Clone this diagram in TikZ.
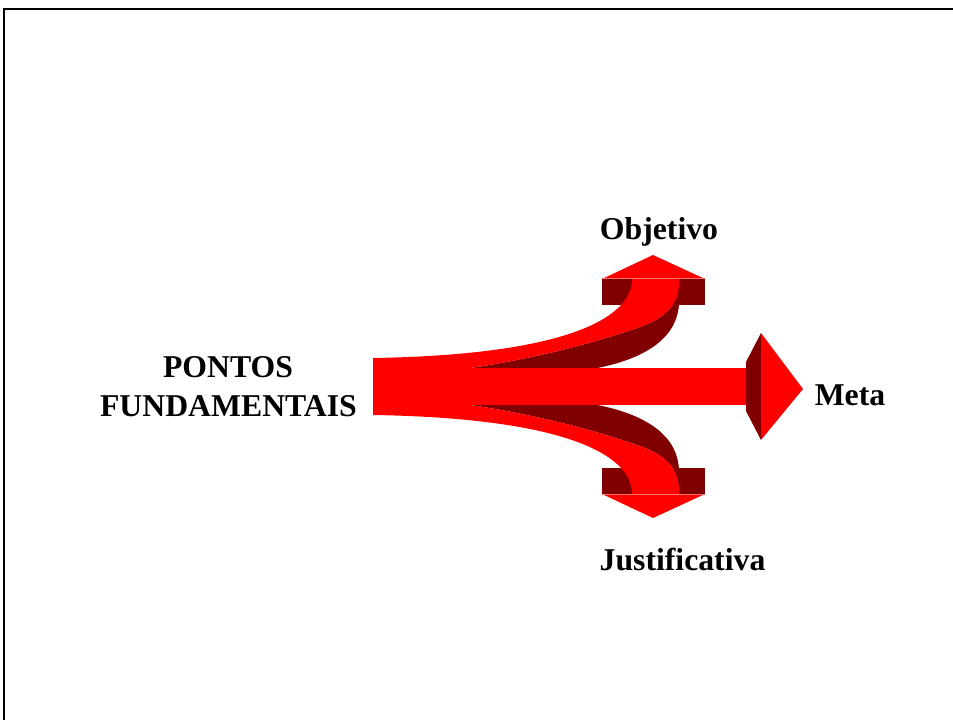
\documentclass[tikz,border=0pt]{standalone}
\usepackage{fontspec}
\setmainfont{Liberation Serif}
\definecolor{arrred}{RGB}{255,0,0}
\definecolor{arrdark}{RGB}{128,0,0}
\definecolor{arrlight}{RGB}{255,110,110}
\begin{document}
\begin{tikzpicture}[x=0.75pt,y=-0.75pt,
 lbl/.style={font=\fontsize{23.8}{28}\selectfont\bfseries, inner sep=0pt, anchor=base},
 face/.style={fill=arrred, draw=none},
 side/.style={fill=arrdark, draw=none},
 edgeline/.style={draw=arrlight, line width=0.75pt}]
\useasboundingbox (0,0) rectangle (953,720);
\fill[white] (0,0) rectangle (953,720);
\draw[line width=1.5pt] (4,720) -- (4,9.5) -- (953,9.5);

\foreach \s in {1,-1} {
\begin{scope}[shift={(0,386.5)}, yscale=\s, shift={(0,-386.5)}]
  \fill[side] (602,279) rectangle (705,305);
  \fill[side] (679,279) -- (679,303) .. controls (678,335) and (650,358) .. (595,368.5)
     -- (467,368.5) .. controls (540,358) and (600,341) .. (640,327)
     .. controls (665,318) and (678,305) .. (679,285) -- cycle;
  \fill[face] (373,358) .. controls (560,355) and (632,320) .. (632,279)
     -- (679,279) -- (679,285) .. controls (678,305) and (665,318) .. (640,327)
     .. controls (600,341) and (540,358) .. (467,368.5) -- (373,368.5) -- cycle;
  \fill[face] (602,279) -- (653,255) -- (705,279) -- cycle;
  \draw[edgeline] (602,279) -- (705,279);
\end{scope}
}

\fill[face] (373,368) rectangle (761,405);
\fill[side] (761,333) -- (746,362) -- (746,411) -- (761,440) -- cycle;
\fill[face] (761,333) -- (803,389) -- (761,440) -- cycle;

\node[lbl] (obj) at (659,240) {Objetivo};
\node[lbl] (meta) at (850,405) {Meta};
\node[lbl] (just) at (682.5,570) {Justificativa};
\node[lbl] (pontos) at (228,377) {PONTOS};
\node[lbl] (fund) at (228.5,416) {FUNDAMENTAIS};
\end{tikzpicture}
\end{document}
